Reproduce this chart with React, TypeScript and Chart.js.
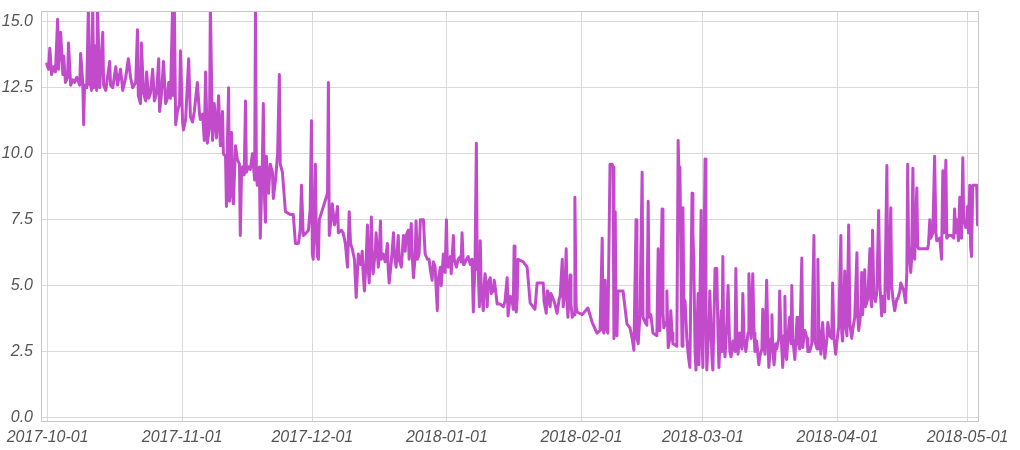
import React, { useEffect, useRef } from 'react';
import { Chart, registerables } from 'chart.js';

Chart.register(...registerables);

const START_DATE = '2017-10-01';
const monthTickLabels = ['2017-10-01', '2017-11-01', '2017-12-01', '2018-01-01', '2018-02-01', '2018-03-01', '2018-04-01', '2018-05-01'];
const yTickValues = [0, 2.5, 5, 7.5, 10, 12.5, 15];

// x = days since 2017-10-01, y = reading
const octDays = [-0.2, 0.2, 0.5, 0.9, 1.4, 1.8, 2.3, 2.5, 3.0, 3.5, 3.7, 4.1, 4.6, 4.8, 5.3, 5.8, 6.2, 6.7, 7.4, 7.6, 8.1, 8.3, 8.5, 9.0, 9.4, 9.7, 9.9, 10.1, 10.4, 10.6, 10.8, 11.3, 11.5, 12.0, 12.7, 12.9, 13.4, 13.8, 14.3, 14.5, 15.0, 15.7, 16.1, 16.8, 17.3, 18.0, 18.6, 19.1, 19.6, 20.3, 20.7, 20.9, 21.4, 21.6, 22.1, 22.6, 22.8, 23.3, 23.7, 24.2, 24.6, 25.1, 25.6, 25.8, 26.2, 26.7, 27.2, 27.6, 27.9, 28.3, 28.8, 29.0, 29.2, 29.5, 29.9, 30.4, 30.6];
const octValues = [13.4, 13.2, 14.0, 13.0, 13.3, 13.1, 15.1, 13.2, 14.6, 13.0, 13.7, 12.7, 12.9, 14.2, 12.6, 12.8, 12.7, 12.9, 12.6, 13.8, 12.7, 11.1, 12.6, 12.5, 15.6, 12.6, 14.0, 12.4, 15.6, 12.5, 14.1, 12.4, 15.6, 12.5, 14.6, 12.6, 12.4, 12.9, 13.5, 12.6, 12.5, 13.3, 12.6, 13.2, 12.4, 12.9, 13.6, 12.9, 12.5, 12.7, 14.7, 12.2, 11.9, 14.2, 12.3, 12.0, 13.1, 12.1, 12.3, 13.2, 12.0, 12.3, 13.6, 11.6, 12.2, 13.5, 11.9, 12.1, 12.7, 12.1, 15.6, 12.2, 15.6, 11.1, 11.6, 11.9, 13.9];

const novDays = [31.1, 31.3, 31.8, 32.5, 32.9, 33.4, 33.8, 34.5, 35.0, 35.2, 35.7, 36.1, 36.4, 36.8, 37.3, 37.5, 38.0, 38.4, 38.9, 39.4, 39.8, 40.3, 40.5, 41.0, 41.2, 41.4, 41.7, 41.9, 42.4, 42.6, 42.8, 43.3, 43.7, 44.2, 44.4, 44.7, 44.9, 45.3, 45.6, 45.8, 46.3, 46.7, 47.2, 47.7, 47.9, 48.1, 48.3, 48.8, 49.0, 49.5, 49.7, 50.0, 50.2, 50.4, 50.9, 51.3, 51.8, 52.0, 52.5, 53.0, 53.4, 53.6, 54.1, 54.8, 55.9, 56.6, 57.1, 57.8, 58.2, 58.5, 58.9, 59.6, 60.1, 60.5, 60.8, 61.0];
const novValues = [11.2, 10.9, 11.3, 13.6, 11.4, 11.2, 11.6, 12.7, 11.5, 11.3, 11.5, 10.5, 13.1, 10.4, 11.0, 15.6, 10.5, 11.9, 10.6, 12.2, 10.3, 11.6, 10.0, 9.9, 8.0, 10.2, 12.5, 8.2, 10.8, 8.4, 8.1, 10.3, 9.8, 9.6, 6.9, 9.4, 9.5, 9.2, 12.0, 9.3, 9.5, 9.4, 10.0, 9.0, 15.6, 9.3, 8.8, 9.5, 6.8, 9.8, 11.9, 8.2, 7.4, 9.9, 8.5, 9.6, 9.3, 8.3, 9.0, 10.0, 13.0, 9.6, 9.3, 7.8, 7.7, 7.7, 6.6, 6.6, 7.1, 8.8, 6.9, 7.0, 7.1, 7.9, 11.25, 6.2];

const decDays = [61.2, 61.5, 61.7, 61.9, 62.2, 62.4, 62.6, 64.5, 64.7, 64.9, 65.4, 65.6, 66.1, 66.5, 66.8, 67.0, 67.7, 68.1, 68.6, 69.1, 69.5, 69.8, 70.2, 70.7, 71.1, 71.6, 72.1, 72.5, 72.7, 73.0, 73.4, 73.7, 73.9, 74.1, 74.4, 74.6, 74.8, 75.0, 75.5, 75.7, 76.2, 76.4, 76.7, 76.9, 77.3, 77.8, 78.3, 78.5, 78.7, 79.2, 79.7, 79.9, 80.3, 80.8, 81.0, 81.5, 82.0, 82.4, 82.6, 83.1, 83.3, 83.8, 84.0, 84.3, 84.7, 84.9, 85.2, 85.6, 85.9, 86.6, 86.8, 87.0, 87.5, 87.9, 88.2, 88.6, 88.9, 89.3, 89.5, 89.8, 90.0, 90.5, 90.7, 91.2, 91.6, 91.9];
const decValues = [6.0, 7.5, 9.6, 7.0, 6.1, 6.0, 7.5, 8.5, 12.7, 6.9, 7.6, 8.1, 7.3, 7.6, 8.0, 7.0, 7.1, 7.0, 6.6, 5.7, 7.8, 6.6, 6.4, 6.0, 4.55, 6.2, 5.8, 6.3, 5.5, 4.8, 6.0, 7.3, 5.6, 5.1, 6.4, 7.6, 6.0, 5.45, 6.3, 7.0, 5.7, 6.1, 7.45, 6.0, 6.2, 5.9, 6.6, 5.6, 5.1, 5.9, 7.0, 6.2, 5.7, 6.9, 6.0, 5.7, 6.9, 6.3, 6.9, 7.1, 6.0, 7.35, 6.2, 5.3, 6.1, 7.45, 6.0, 6.2, 7.5, 7.5, 6.8, 6.2, 6.0, 6.0, 5.6, 5.2, 5.9, 5.7, 5.0, 4.05, 5.2, 5.7, 5.0, 6.2, 5.5, 7.5];

const janDays = [92.1, 92.3, 92.8, 93.0, 93.2, 93.5, 93.7, 94.2, 94.6, 95.1, 95.3, 95.5, 95.8, 96.0, 96.5, 96.9, 97.4, 97.8, 98.1, 98.5, 98.8, 99.0, 99.2, 99.5, 99.7, 99.9, 100.4, 100.6, 100.8, 101.1, 101.3, 101.5, 102.0, 102.2, 102.7, 102.9, 103.1, 103.6, 104.3, 105.0, 105.4, 105.9, 106.1, 106.6, 107.0, 107.3, 107.5, 107.7, 108.0, 108.2, 108.4, 109.6, 110.5, 111.2, 112.3, 112.8, 114.2, 114.4, 114.9, 115.1, 115.3, 115.8, 116.0, 116.5, 116.9, 117.4, 117.9, 118.1, 118.6, 118.8, 119.2, 119.5, 119.7, 119.9, 120.4, 120.6, 120.9, 121.3, 121.5, 121.8, 122.0];
const janValues = [6.0, 5.7, 6.1, 5.45, 6.0, 6.9, 6.0, 5.7, 6.0, 6.1, 5.9, 7.0, 5.8, 5.8, 6.0, 6.1, 5.8, 6.0, 4.0, 5.9, 10.4, 5.6, 5.7, 4.2, 6.7, 5.0, 4.05, 5.0, 5.45, 5.0, 4.2, 5.1, 5.3, 4.7, 4.8, 5.2, 5.0, 4.3, 4.3, 4.2, 4.4, 5.3, 3.85, 4.6, 4.5, 4.1, 6.5, 4.2, 4.0, 4.5, 6.0, 5.9, 5.7, 4.35, 4.1, 5.1, 5.1, 4.4, 3.95, 4.8, 4.6, 4.2, 4.7, 4.5, 4.3, 3.95, 4.5, 4.6, 6.0, 4.2, 4.7, 6.4, 4.5, 3.8, 5.4, 4.3, 3.8, 3.9, 8.35, 4.2, 4.0];

const febDays = [123.2, 124.5, 125.5, 126.6, 127.3, 127.8, 128.0, 128.2, 128.5, 128.7, 129.1, 129.6, 130.1, 130.3, 130.5, 130.8, 131.0, 131.2, 131.4, 132.6, 133.1, 133.5, 134.2, 134.7, 135.1, 135.6, 135.8, 136.1, 136.5, 137.0, 137.2, 137.7, 138.1, 138.4, 138.6, 139.0, 139.5, 140.4, 140.7, 140.9, 141.1, 141.6, 141.8, 142.0, 142.5, 142.7, 143.0, 143.4, 143.6, 143.9, 144.1, 145.0, 145.3, 145.5, 145.7, 146.0, 146.2, 146.4, 146.6, 146.9, 147.3, 147.6, 148.0, 148.5, 148.7, 148.9, 149.2, 149.4, 149.9, 150.1, 150.6, 150.8];
const febValues = [3.9, 4.15, 3.6, 3.2, 3.3, 6.8, 3.3, 3.2, 5.2, 3.4, 3.2, 9.6, 9.6, 9.5, 3.0, 7.8, 3.5, 3.1, 4.8, 4.8, 4.1, 3.55, 3.4, 3.0, 2.55, 7.5, 3.0, 2.8, 3.9, 9.3, 3.8, 3.6, 3.5, 8.2, 3.8, 3.9, 3.2, 3.1, 6.4, 3.3, 3.5, 7.9, 4.0, 3.4, 3.6, 4.8, 2.65, 3.0, 4.05, 3.2, 2.8, 2.7, 10.5, 9.0, 9.5, 5.0, 2.7, 7.95, 4.5, 4.4, 3.0, 2.4, 1.9, 8.5, 7.0, 5.95, 2.5, 1.8, 4.7, 2.0, 7.85, 3.0];

const marDays = [151.0, 151.5, 151.7, 151.9, 152.4, 152.6, 153.1, 153.3, 153.8, 154.2, 154.5, 154.7, 155.2, 155.4, 155.6, 155.8, 156.1, 156.5, 156.8, 157.2, 157.5, 157.9, 158.4, 158.6, 158.8, 159.1, 159.5, 160.0, 160.2, 160.5, 160.9, 161.4, 161.6, 162.1, 162.5, 162.8, 163.0, 163.4, 163.9, 164.1, 164.6, 164.8, 165.1, 165.3, 165.7, 166.0, 166.2, 166.7, 166.9, 167.1, 167.4, 167.8, 168.0, 168.5, 168.7, 169.0, 169.4, 169.7, 169.9, 170.1, 170.3, 170.8, 171.0, 171.3, 171.5, 171.7, 172.2, 172.7, 172.9, 173.3, 173.8, 174.0, 174.5, 175.0, 175.2, 175.6, 176.1, 176.6, 176.8, 177.3, 177.5, 177.7, 178.2, 178.6, 178.9, 179.1, 179.6, 179.8, 180.2, 180.7, 180.9, 181.2, 181.6];
const marValues = [1.9, 9.8, 4.0, 1.8, 3.5, 4.8, 2.2, 1.8, 5.65, 5.65, 3.0, 1.9, 4.05, 2.5, 6.1, 3.0, 2.3, 3.5, 5.0, 2.5, 2.3, 2.9, 2.5, 5.65, 3.3, 2.4, 3.2, 2.6, 4.7, 3.0, 2.5, 3.2, 5.45, 3.0, 5.45, 3.2, 2.5, 2.9, 2.0, 2.3, 2.6, 4.1, 2.8, 2.4, 5.2, 2.8, 1.9, 3.0, 3.9, 2.6, 2.0, 2.8, 2.6, 3.0, 4.8, 3.2, 1.9, 3.1, 4.6, 2.4, 2.2, 3.5, 3.8, 2.8, 5.0, 3.0, 2.2, 3.8, 2.9, 2.6, 6.05, 2.65, 3.3, 3.0, 2.5, 2.5, 2.8, 6.9, 2.9, 2.6, 6.0, 3.5, 2.4, 3.6, 2.8, 2.25, 3.0, 3.6, 3.1, 3.0, 5.1, 3.0, 2.4];

const aprDays = [182.1, 182.3, 182.8, 183.0, 183.2, 183.7, 183.9, 184.2, 184.6, 184.9, 185.3, 185.5, 186.0, 186.5, 186.7, 186.9, 187.4, 187.6, 187.8, 188.3, 188.5, 189.0, 189.5, 189.7, 189.9, 190.1, 190.4, 190.8, 191.1, 191.5, 191.8, 192.2, 192.5, 192.9, 193.4, 193.6, 193.8, 194.3, 194.5, 194.8, 195.2, 195.7, 195.9, 196.4, 196.6, 197.1, 197.3, 197.7, 198.0, 198.2, 198.4, 198.9, 199.1, 199.4, 199.6, 199.8, 200.3, 200.5, 200.7, 202.8, 203.0, 203.3, 203.5, 204.0, 204.4, 204.7, 204.9, 205.6, 206.0, 206.3, 206.5, 207.0, 207.2, 207.6, 208.3, 208.8, 209.0, 209.3, 209.5, 209.9, 210.2, 210.4, 210.6, 210.9, 211.1, 211.6, 211.8, 212.0, 212.2, 212.5, 212.7, 212.9, 213.2, 214.1, 214.3];
const aprValues = [3.2, 3.4, 6.9, 3.2, 2.9, 5.55, 3.5, 3.1, 7.3, 3.5, 3.0, 3.3, 3.8, 6.25, 3.8, 3.3, 4.0, 5.5, 3.9, 5.6, 4.2, 4.5, 6.4, 4.5, 4.2, 7.1, 4.6, 4.4, 4.8, 7.85, 5.0, 3.85, 4.6, 4.0, 9.55, 5.0, 4.5, 7.95, 5.0, 4.5, 4.05, 4.5, 4.5, 4.8, 5.1, 4.9, 4.8, 4.35, 5.5, 9.6, 6.5, 5.5, 6.0, 9.45, 6.5, 6.0, 8.7, 6.5, 6.4, 6.4, 6.6, 7.5, 6.8, 7.0, 9.9, 7.0, 6.7, 6.8, 6.0, 9.35, 7.0, 9.75, 6.8, 6.9, 6.9, 6.8, 7.9, 7.0, 7.5, 6.7, 8.35, 7.0, 6.8, 9.85, 7.5, 7.2, 7.5, 8.0, 7.0, 8.8, 6.5, 6.1, 8.8, 8.8, 7.3];

const dayGroups = [octDays, novDays, decDays, janDays, febDays, marDays, aprDays];
const valueGroups = [octValues, novValues, decValues, janValues, febValues, marValues, aprValues];

const DAY_MS = 86400000;
const dayOffset = (label: string) => (Date.parse(label) - Date.parse(START_DATE)) / DAY_MS;

function buildPoints() {
  const pts: { x: number; y: number }[] = [];
  dayGroups.forEach((ds, i) => {
    const vs = valueGroups[i];
    const n = Math.min(ds.length, vs.length);
    for (let k = 0; k < n; k++) pts.push({ x: ds[k], y: vs[k] });
  });
  return pts;
}

const FONT = { family: '"Liberation Sans", Arial, sans-serif', size: 16, style: 'italic' as const };
const GRID = '#d9d9d9';

const framePlugin = {
  id: 'frame',
  afterDraw(chart: any) {
    const { ctx, chartArea } = chart;
    const { left, top, right, bottom } = chartArea;
    ctx.save();
    ctx.strokeStyle = '#c8c8c8';
    ctx.lineWidth = 1;
    ctx.strokeRect(left - 0.5, top + 0.5, right - left + 1, bottom - top - 1);
    ctx.restore();
  },
};

const noPad = (s: any) => {
  s.paddingTop = 0;
  s.paddingBottom = 0;
  s.paddingLeft = 0;
  s.paddingRight = 0;
};

export default function App() {
  const ref = useRef<HTMLCanvasElement>(null);
  useEffect(() => {
    if (!ref.current) return;
    const chart = new Chart(ref.current, {
      type: 'line',
      data: {
        datasets: [
          {
            data: buildPoints(),
            borderColor: '#c14bcb',
            borderWidth: 3,
            pointRadius: 0,
            tension: 0,
            fill: false,
            borderJoinStyle: 'round',
            borderCapStyle: 'round',
            clip: 0,
          } as any,
        ],
      },
      options: {
        animation: false,
        responsive: false,
        devicePixelRatio: 1,
        layout: { padding: { left: 0, right: 42, top: 11, bottom: 0 } },
        plugins: { legend: { display: false }, tooltip: { enabled: false } },
        scales: {
          x: {
            type: 'linear',
            min: -1.3,
            max: 214.4,
            grid: { color: GRID, lineWidth: 1, drawTicks: false },
            border: { display: false },
            ticks: {
              font: FONT,
              color: '#555555',
              padding: 6,
              maxRotation: 0,
              autoSkip: false,
              callback: (_v: any, i: number) => monthTickLabels[i],
            },
            afterBuildTicks: (s: any) => {
              s.ticks = monthTickLabels.map((l) => ({ value: dayOffset(l) }));
            },
            afterFit: (s: any) => {
              s.height = 28;
              noPad(s);
            },
          },
          y: {
            type: 'linear',
            min: -0.17,
            max: 15.41,
            grid: { color: GRID, lineWidth: 1, drawTicks: false },
            border: { display: false },
            ticks: {
              font: FONT,
              color: '#555555',
              padding: 9,
              callback: (v: any) => Number(v).toFixed(1),
            },
            afterBuildTicks: (s: any) => {
              s.ticks = yTickValues.map((v) => ({ value: v }));
            },
            afterFit: (s: any) => {
              s.width = 42;
              noPad(s);
            },
          },
        },
      } as any,
      plugins: [framePlugin],
    });
    return () => chart.destroy();
  }, []);
  return (
    <div style={{ position: 'fixed', left: 0, top: 0, width: 1020, height: 450, background: '#ffffff' }}>
      <canvas ref={ref} width={1020} height={450} style={{ display: 'block', width: 1020, height: 450 }} />
    </div>
  );
}
